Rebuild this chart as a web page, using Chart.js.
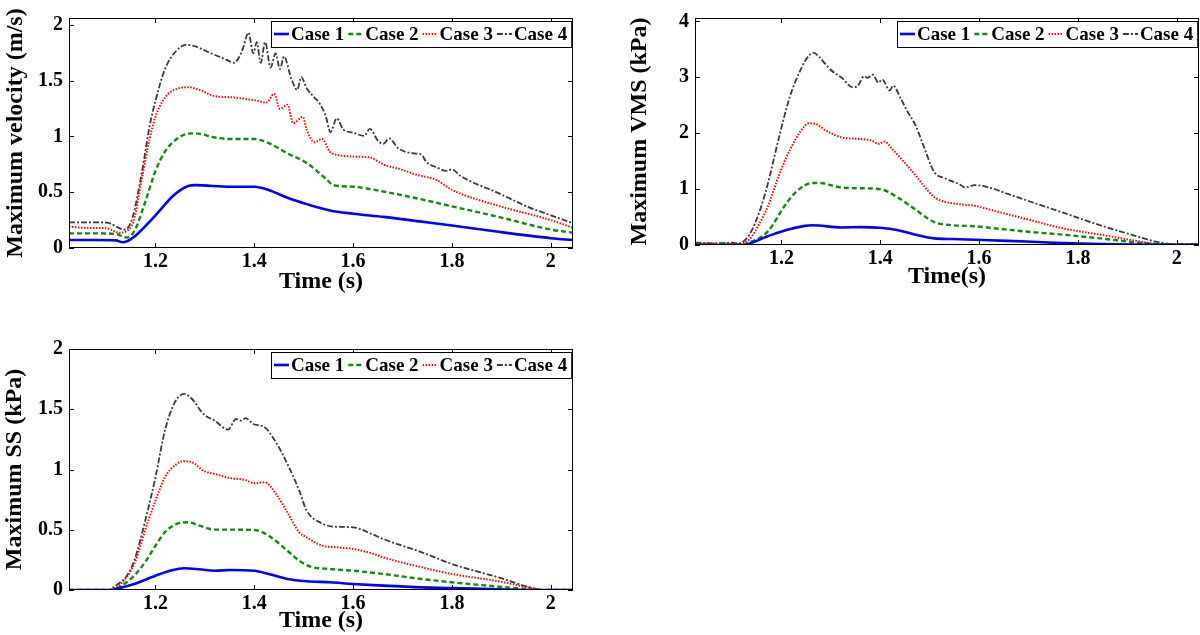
<!DOCTYPE html>
<html>
<head>
<meta charset="utf-8">
<script src="https://cdn.jsdelivr.net/npm/chart.js@4.4.1/dist/chart.umd.min.js"></script>
<style>
  html, body { margin: 0; padding: 0; background: #fff; }
  body { width: 1200px; height: 635px; position: relative; overflow: hidden; }
  .box { position: absolute; }
</style>
</head>
<body>
<div class="box" style="left:0;top:0"><canvas id="velChart" width="600" height="300"></canvas></div>
<div class="box" style="left:600px;top:0"><canvas id="vmsChart" width="600" height="300"></canvas></div>
<div class="box" style="left:0;top:330px"><canvas id="ssChart" width="600" height="305"></canvas></div>
<script>
const caseLabels = ['Case 1', 'Case 2', 'Case 3', 'Case 4'];
const timeTicks = [1.2, 1.4, 1.6, 1.8, 2];
const velTicks = [0, 0.5, 1, 1.5, 2];
const vmsTicks = [0, 1, 2, 3, 4];
const ssTicks = [0, 0.5, 1, 1.5, 2];

// maximum velocity (m/s)
const velT1 = [1.025, 1.08, 1.12, 1.134, 1.153, 1.2, 1.235, 1.266, 1.281, 1.351, 1.4, 1.429, 1.467, 1.506, 1.553, 1.6, 1.661, 1.739, 1.8, 1.894, 2.0, 2.045];
const velC1 = [0.071, 0.071, 0.068, 0.051, 0.088, 0.293, 0.464, 0.555, 0.563, 0.549, 0.549, 0.52, 0.45, 0.393, 0.336, 0.307, 0.279, 0.236, 0.202, 0.145, 0.088, 0.071];
const velT2 = [1.025, 1.08, 1.12, 1.142, 1.157, 1.181, 1.2, 1.219, 1.243, 1.266, 1.281, 1.32, 1.351, 1.4, 1.429, 1.467, 1.506, 1.545, 1.56, 1.6, 1.661, 1.739, 1.8, 1.894, 2.0, 2.045];
const velC2 = [0.131, 0.131, 0.125, 0.094, 0.15, 0.435, 0.69, 0.862, 0.976, 1.024, 1.027, 0.99, 0.976, 0.976, 0.94, 0.848, 0.762, 0.62, 0.563, 0.549, 0.506, 0.435, 0.373, 0.279, 0.165, 0.137];
const velT3 = [1.025, 1.06, 1.1, 1.126, 1.153, 1.173, 1.188, 1.2, 1.219, 1.243, 1.266, 1.289, 1.32, 1.351, 1.4, 1.425, 1.44, 1.452, 1.467, 1.479, 1.498, 1.506, 1.522, 1.537, 1.553, 1.568, 1.6, 1.634, 1.661, 1.7, 1.723, 1.77, 1.8, 1.894, 2.0, 2.045];
const velC3 = [0.193, 0.18, 0.178, 0.137, 0.208, 0.634, 0.976, 1.175, 1.346, 1.425, 1.44, 1.417, 1.36, 1.351, 1.323, 1.303, 1.38, 1.246, 1.283, 1.118, 1.175, 1.061, 0.947, 0.976, 0.862, 0.834, 0.819, 0.811, 0.748, 0.7, 0.663, 0.606, 0.521, 0.378, 0.25, 0.18];
const velT4 = [1.025, 1.1, 1.138, 1.153, 1.173, 1.188, 1.2, 1.219, 1.243, 1.262, 1.281, 1.305, 1.328, 1.343, 1.359, 1.37, 1.378, 1.388, 1.398, 1.405, 1.413, 1.422, 1.433, 1.443, 1.452, 1.46, 1.475, 1.487, 1.495, 1.506, 1.522, 1.533, 1.545, 1.554, 1.567, 1.58, 1.6, 1.622, 1.634, 1.65, 1.661, 1.673, 1.692, 1.723, 1.739, 1.747, 1.77, 1.789, 1.8, 1.816, 1.894, 1.956, 2.0, 2.045];
const velC4 = [0.23, 0.228, 0.165, 0.265, 0.69, 1.09, 1.317, 1.6, 1.77, 1.82, 1.806, 1.758, 1.715, 1.687, 1.659, 1.715, 1.8, 1.929, 1.744, 1.843, 1.659, 1.843, 1.616, 1.744, 1.602, 1.715, 1.516, 1.417, 1.531, 1.431, 1.346, 1.289, 1.175, 1.038, 1.161, 1.061, 1.033, 1.004, 1.067, 0.962, 0.933, 0.981, 0.89, 0.848, 0.834, 0.777, 0.72, 0.691, 0.705, 0.649, 0.492, 0.364, 0.293, 0.222];

// maximum VMS (kPa)
const vmsT1 = [1.025, 1.12, 1.172, 1.21, 1.247, 1.262, 1.322, 1.359, 1.4, 1.434, 1.471, 1.509, 1.546, 1.591, 1.621, 1.695, 1.77, 1.845, 1.919, 2.045];
const vmsC1 = [0, 0, 0.157, 0.27, 0.342, 0.353, 0.314, 0.32, 0.308, 0.27, 0.185, 0.118, 0.107, 0.095, 0.084, 0.062, 0.034, 0.017, 0.006, 0];
const vmsT2 = [1.025, 1.12, 1.135, 1.172, 1.21, 1.232, 1.262, 1.277, 1.322, 1.359, 1.4, 1.434, 1.471, 1.509, 1.546, 1.591, 1.621, 1.695, 1.77, 1.845, 1.919, 1.957, 1.994, 2.045];
const vmsC2 = [0.02, 0.01, 0.045, 0.24, 0.746, 0.97, 1.11, 1.11, 1.026, 1.015, 0.998, 0.858, 0.634, 0.41, 0.353, 0.336, 0.308, 0.241, 0.185, 0.118, 0.045, 0.017, 0.005, 0.01];
const vmsT3 = [1.025, 1.113, 1.135, 1.157, 1.172, 1.195, 1.217, 1.24, 1.255, 1.269, 1.292, 1.322, 1.359, 1.382, 1.397, 1.408, 1.426, 1.449, 1.471, 1.486, 1.509, 1.531, 1.561, 1.591, 1.621, 1.695, 1.77, 1.845, 1.919, 1.957, 1.98, 2.045];
const vmsC3 = [0.03, 0.02, 0.1, 0.41, 0.68, 1.25, 1.7, 2.05, 2.176, 2.165, 2.036, 1.924, 1.896, 1.868, 1.81, 1.85, 1.7, 1.475, 1.25, 1.082, 0.858, 0.774, 0.729, 0.701, 0.634, 0.466, 0.297, 0.185, 0.073, 0.017, 0.005, 0.02];
const vmsT4 = [1.025, 1.06, 1.1, 1.113, 1.135, 1.157, 1.172, 1.195, 1.217, 1.24, 1.255, 1.266, 1.277, 1.3, 1.322, 1.344, 1.355, 1.367, 1.374, 1.385, 1.396, 1.404, 1.419, 1.426, 1.441, 1.456, 1.471, 1.486, 1.509, 1.531, 1.561, 1.572, 1.591, 1.621, 1.658, 1.695, 1.77, 1.845, 1.919, 1.957, 1.994, 2.045];
const vmsC4 = [0.04, 0.03, 0.04, 0.03, 0.185, 0.634, 1.082, 1.924, 2.653, 3.158, 3.382, 3.438, 3.354, 3.13, 2.99, 2.82, 2.85, 3.017, 2.99, 3.045, 2.905, 2.96, 2.765, 2.85, 2.625, 2.372, 2.148, 1.81, 1.307, 1.195, 1.082, 1.026, 1.071, 1.026, 0.914, 0.802, 0.578, 0.353, 0.157, 0.062, 0.017, 0.02];

// maximum SS (kPa)
const ssT1 = [1.025, 1.111, 1.119, 1.157, 1.2, 1.235, 1.258, 1.289, 1.32, 1.351, 1.4, 1.429, 1.467, 1.506, 1.553, 1.6, 1.661, 1.739, 1.8, 1.894, 1.971, 2.045];
const ssC1 = [0, 0, 0.008, 0.05, 0.119, 0.166, 0.18, 0.172, 0.16, 0.166, 0.16, 0.133, 0.091, 0.072, 0.064, 0.05, 0.036, 0.022, 0.017, 0.006, 0, 0];
const ssT2 = [1.025, 1.111, 1.126, 1.157, 1.181, 1.2, 1.219, 1.243, 1.266, 1.289, 1.32, 1.351, 1.4, 1.429, 1.467, 1.491, 1.514, 1.553, 1.6, 1.661, 1.739, 1.8, 1.894, 1.956, 1.971, 2.045];
const ssC2 = [0, 0, 0.022, 0.119, 0.243, 0.368, 0.479, 0.548, 0.562, 0.534, 0.501, 0.501, 0.498, 0.451, 0.326, 0.243, 0.194, 0.174, 0.16, 0.133, 0.091, 0.064, 0.028, 0.006, 0, 0];
const ssT3 = [1.025, 1.103, 1.126, 1.157, 1.181, 1.2, 1.219, 1.243, 1.258, 1.274, 1.297, 1.32, 1.351, 1.382, 1.4, 1.421, 1.444, 1.467, 1.491, 1.506, 1.537, 1.568, 1.6, 1.638, 1.661, 1.739, 1.8, 1.894, 1.971, 1.985, 2.045];
const ssC3 = [0, 0, 0.036, 0.216, 0.52, 0.741, 0.935, 1.046, 1.068, 1.06, 0.99, 0.963, 0.929, 0.913, 0.885, 0.894, 0.797, 0.645, 0.479, 0.437, 0.368, 0.354, 0.34, 0.304, 0.271, 0.188, 0.133, 0.072, 0.008, 0, 0];
const ssT4 = [1.025, 1.103, 1.119, 1.142, 1.157, 1.181, 1.2, 1.219, 1.239, 1.258, 1.274, 1.297, 1.32, 1.347, 1.363, 1.374, 1.382, 1.398, 1.421, 1.444, 1.467, 1.491, 1.506, 1.537, 1.56, 1.6, 1.638, 1.661, 1.739, 1.8, 1.894, 1.971, 1.985, 2.045];
const ssC4 = [0, 0, 0.036, 0.119, 0.243, 0.603, 0.935, 1.322, 1.557, 1.627, 1.585, 1.461, 1.405, 1.331, 1.419, 1.405, 1.427, 1.378, 1.35, 1.225, 1.046, 0.824, 0.658, 0.553, 0.526, 0.52, 0.465, 0.423, 0.313, 0.216, 0.105, 0.008, 0, 0];

const serif = '"Liberation Serif", "Times New Roman", serif';
const tickFont = { family: serif, size: 20, weight: 'bold' };
const titleFont = { family: serif, size: 24, weight: 'bold' };

const caseStyles = [
    { color: '#0000ff', width: 2.6, dash: [] },
    { color: '#128a12', width: 2.4, dash: [5, 3] },
    { color: '#ff0000', width: 2, dash: [1.5, 1.5] },
    { color: '#3a3a3a', width: 1.8, dash: [6, 2, 2, 2] }
];

function pts(t, v) {
    return t.map((x, i) => ({ x: x, y: v[i] }));
}

// box, inward ticks on all four sides and the legend inside the axes
const matlabBox = {
    id: 'matlabBox',
    afterDatasetsDraw(chart) {
        const { ctx, chartArea: a, scales: { x, y } } = chart;
        const tl = 5;
        ctx.save();
        ctx.strokeStyle = '#000';
        ctx.lineWidth = 1;
        ctx.setLineDash([]);
        ctx.beginPath();
        x.ticks.forEach(t => {
            const px = Math.round(x.getPixelForValue(t.value)) + 0.5;
            ctx.moveTo(px, a.bottom); ctx.lineTo(px, a.bottom - tl);
            ctx.moveTo(px, a.top); ctx.lineTo(px, a.top + tl);
        });
        y.ticks.forEach(t => {
            const py = Math.round(y.getPixelForValue(t.value)) + 0.5;
            ctx.moveTo(a.left, py); ctx.lineTo(a.left + tl, py);
            ctx.moveTo(a.right, py); ctx.lineTo(a.right - tl, py);
        });
        ctx.stroke();
        ctx.strokeRect(a.left + 0.5, a.top + 0.5, a.right - a.left - 1, a.bottom - a.top - 1);

        // legend
        ctx.font = 'bold 19px ' + serif;
        const lineLen = 15, gap = 2, itemGap = 4, bh = 26;
        const sets = chart.data.datasets;
        const widths = sets.map(d => ctx.measureText(d.label).width);
        const total = 3 + widths.reduce((s, w) => s + lineLen + gap + w + itemGap, 0);
        const bx = Math.round(a.right - 2 - total), by = Math.round(a.top + 3);
        ctx.fillStyle = '#fff';
        ctx.fillRect(bx, by, total, bh);
        ctx.strokeRect(bx + 0.5, by + 0.5, total, bh);
        let cx = bx + 3;
        const cy = by + bh / 2;
        sets.forEach((d, i) => {
            ctx.beginPath();
            ctx.strokeStyle = d.borderColor;
            ctx.lineWidth = d.borderWidth;
            ctx.setLineDash(d.borderDash);
            ctx.moveTo(cx, cy); ctx.lineTo(cx + lineLen, cy);
            ctx.stroke();
            ctx.setLineDash([]);
            cx += lineLen + gap;
            ctx.fillStyle = '#000';
            ctx.textBaseline = 'middle';
            ctx.textAlign = 'left';
            ctx.fillText(d.label, cx, cy + 1);
            cx += widths[i] + itemGap;
        });
        ctx.restore();
    }
};

function makeChart(id, series, yTicks, yMax, yTitle, xTitle, geo) {
    return new Chart(document.getElementById(id), {
        type: 'line',
        data: {
            datasets: series.map((s, i) => ({
                label: caseLabels[i],
                data: pts(s[0], s[1]),
                borderColor: caseStyles[i].color,
                borderWidth: caseStyles[i].width,
                borderDash: caseStyles[i].dash,
                pointRadius: 0,
                cubicInterpolationMode: 'monotone',
                fill: false
            }))
        },
        options: {
            responsive: false,
            animation: false,
            events: [],
            layout: { padding: { top: geo.top, right: geo.right, bottom: 0, left: 0 } },
            plugins: { legend: { display: false }, tooltip: { enabled: false } },
            scales: {
                x: {
                    type: 'linear', min: 1.025, max: 2.045,
                    grid: { display: false, drawTicks: false },
                    border: { display: false },
                    afterBuildTicks: s => { s.ticks = timeTicks.map(v => ({ value: v })); },
                    afterFit: s => { s.height = geo.xh; },
                    ticks: { font: tickFont, color: '#000', padding: 2, maxRotation: 0, callback: v => String(v) },
                    title: { display: true, text: xTitle, font: titleFont, color: '#000', padding: { top: 0, bottom: geo.xtp } }
                },
                y: {
                    type: 'linear', min: 0, max: yMax,
                    grid: { display: false, drawTicks: false },
                    border: { display: false },
                    afterBuildTicks: s => { s.ticks = yTicks.map(v => ({ value: v })); },
                    afterFit: s => { s.width = geo.yw; },
                    ticks: { font: tickFont, color: '#000', padding: 6, callback: v => String(v) },
                    title: { display: true, text: yTitle, font: titleFont, color: '#000', padding: { top: geo.ytp, bottom: 0 } }
                }
            }
        },
        plugins: [matlabBox]
    });
}

makeChart('velChart',
    [[velT1, velC1], [velT2, velC2], [velT3, velC3], [velT4, velC4]],
    velTicks, 2.06, 'Maximum velocity (m/s)', 'Time (s)',
    { top: 6, right: 27, yw: 69, xh: 52, ytp: 1, xtp: 3.6 });

makeChart('vmsChart',
    [[vmsT1, vmsC1], [vmsT2, vmsC2], [vmsT3, vmsC3], [vmsT4, vmsC4]],
    vmsTicks, 4.06, 'Maximum VMS (kPa)', 'Time(s)',
    { top: 6, right: 1, yw: 95, xh: 55, ytp: 25.6, xtp: 8.6 });

makeChart('ssChart',
    [[ssT1, ssC1], [ssT2, ssC2], [ssT3, ssC3], [ssT4, ssC4]],
    ssTicks, 2, 'Maximum SS (kPa)', 'Time (s)',
    { top: 19, right: 27, yw: 69, xh: 45, ytp: 0, xtp: 0 });
</script>
</body>
</html>
